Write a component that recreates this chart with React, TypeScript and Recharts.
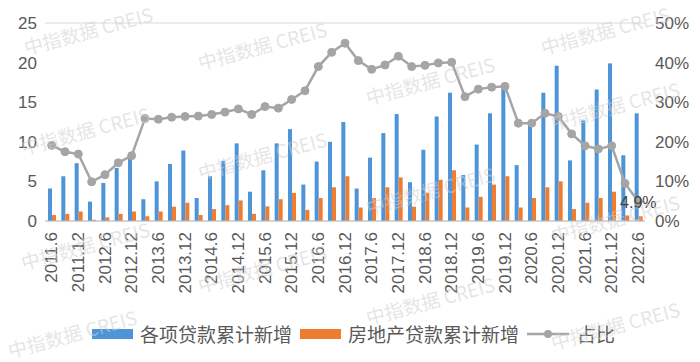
import React from "react";
import {
  Bar,
  CartesianGrid,
  ComposedChart,
  LabelList,
  Legend,
  Line,
  XAxis,
  YAxis,
} from "recharts";

// quarterly, 2011.6 .. 2022.6
const periods = [
  "2011.6", "2011.9", "2011.12", "2012.3", "2012.6", "2012.9", "2012.12",
  "2013.3", "2013.6", "2013.9", "2013.12", "2014.3", "2014.6", "2014.9", "2014.12",
  "2015.3", "2015.6", "2015.9", "2015.12", "2016.3", "2016.6", "2016.9", "2016.12",
  "2017.3", "2017.6", "2017.9", "2017.12", "2018.3", "2018.6", "2018.9", "2018.12",
  "2019.3", "2019.6", "2019.9", "2019.12", "2020.3", "2020.6", "2020.9", "2020.12",
  "2021.3", "2021.6", "2021.9", "2021.12", "2022.3", "2022.6",
];

// 各项贷款累计新增
const totalLoans = [
  4.1, 5.65, 7.3, 2.45, 4.8, 6.7, 7.85,
  2.75, 5.0, 7.2, 8.9, 2.9, 5.65, 7.6, 9.8,
  3.7, 6.4, 9.8, 11.6, 4.6, 7.5, 10.0, 12.5,
  4.1, 8.0, 11.1, 13.5, 4.9, 9.0, 13.2, 16.2,
  5.8, 9.65, 13.6, 16.75, 7.05, 12.15, 16.2, 19.6,
  7.65, 12.7, 16.6, 19.9, 8.3, 13.6,
];

// 房地产贷款累计新增
const propertyLoans = [
  0.75, 0.9, 1.2, 0.15, 0.45, 0.9, 1.2,
  0.6, 1.2, 1.8, 2.3, 0.75, 1.5, 2.0, 2.6,
  0.9, 1.85, 2.75, 3.55, 1.4, 2.9, 4.25, 5.65,
  1.7, 2.9, 4.25, 5.5, 1.8, 3.55, 5.2, 6.4,
  1.7, 3.05, 4.6, 5.65, 1.7, 2.9, 4.25, 5.0,
  1.5, 2.3, 2.9, 3.7, 0.7, 0.6,
];

// 占比 (%)
const share = [
  19.1, 17.5, 16.9, 9.9, 11.7, 14.7, 16.5,
  25.9, 25.7, 26.2, 26.4, 26.5, 26.9, 27.5, 28.3,
  26.9, 28.9, 28.5, 30.7, 32.9, 39.0, 42.6, 44.9,
  40.5, 38.3, 39.4, 41.6, 39.0, 39.3, 39.9, 40.1,
  31.4, 33.3, 33.8, 34.0, 24.7, 24.7, 27.2, 26.4,
  22.0, 19.0, 18.2, 19.0, 9.5, 4.9,
];

const leftTicks = [0, 5, 10, 15, 20, 25];
const rightTicks = [0, 10, 20, 30, 40, 50];

const BLUE = "#4e94d8";
const ORANGE = "#ed7d31";
const GRAY = "#a5a5a5";
const TEXT = "#595959";
const FONT = '"Liberation Sans", "Noto Sans CJK SC", sans-serif';

const data = periods.map((p, i) => ({
  period: p,
  total: totalLoans[i],
  property: propertyLoans[i],
  share: share[i],
}));

// faint "中指数据 CREIS" marks on the source image
const watermarks = [
  [88, 30], [85, 130], [85, 245], [72, 333],
  [262, 45], [262, 155], [262, 268],
  [430, 80], [430, 190], [430, 300],
  [605, 30], [615, 105], [615, 218], [615, 325],
];

function XTick(props: any) {
  const { x, y, payload } = props;
  return (
    <text
      x={x}
      y={y}
      transform={`rotate(-90, ${x}, ${y})`}
      textAnchor="end"
      dominantBaseline="central"
      fill={TEXT}
      fontSize={17}
      fontFamily={FONT}
    >
      {payload.value}
    </text>
  );
}

function LastLabel(props: any) {
  const { x, y, index } = props;
  if (index !== share.length - 1) return null;
  return (
    <text
      x={x}
      y={y + 1}
      textAnchor="middle"
      dominantBaseline="central"
      fill="#404040"
      fontSize={16}
      fontFamily={FONT}
    >
      {share[index]}%
    </text>
  );
}

function LegendContent() {
  const item = { display: "flex", alignItems: "center", marginRight: 8 } as const;
  return (
    <div style={{ display: "flex", alignItems: "center", fontFamily: FONT, fontSize: 19, color: TEXT }}>
      <div style={item}>
        <span style={{ width: 41, height: 10, background: BLUE, marginRight: 7 }} />
        各项贷款累计新增
      </div>
      <div style={item}>
        <span style={{ width: 41, height: 10, background: ORANGE, marginRight: 7 }} />
        房地产贷款累计新增
      </div>
      <div style={item}>
        <svg width={42} height={12} style={{ marginRight: 8 }}>
          <line x1={0} y1={6} x2={42} y2={6} stroke={GRAY} strokeWidth={2.5} />
          <circle cx={21} cy={6} r={4} fill={GRAY} />
        </svg>
        占比
      </div>
    </div>
  );
}

export default function App() {
  return (
    <div style={{ position: "absolute", left: 0, top: 0, width: 700, height: 362, background: "#fff" }}>
      <ComposedChart
        width={700}
        height={362}
        data={data}
        margin={{ top: 23, right: 0, bottom: 0, left: 0 }}
        barGap={0}
        barCategoryGap={0}
      >
        <CartesianGrid vertical={false} stroke="#d9d9d9" />
        <XAxis
          dataKey="period"
          interval={1}
          height={141}
          tick={<XTick />}
          tickLine={false}
          tickMargin={5}
          axisLine={{ stroke: "#bfbfbf" }}
        />
        <YAxis
          yAxisId="left"
          domain={[0, 25]}
          ticks={leftTicks}
          width={45}
          axisLine={false}
          tickLine={false}
          tick={{ fill: TEXT, fontSize: 17, fontFamily: FONT }}
        />
        <YAxis
          yAxisId="right"
          orientation="right"
          domain={[0, 50]}
          ticks={rightTicks}
          width={55}
          axisLine={false}
          tickLine={false}
          tickMargin={4}
          tickFormatter={(v) => `${v}%`}
          tick={{ fill: TEXT, fontSize: 17, fontFamily: FONT }}
        />
        <Legend
          layout="horizontal"
          verticalAlign="middle"
          align="center"
          content={<LegendContent />}
          wrapperStyle={{ top: 320, left: 92, width: 600 }}
        />
        <Bar yAxisId="left" dataKey="total" name="各项贷款累计新增" fill={BLUE} barSize={4} isAnimationActive={false} />
        <Bar yAxisId="left" dataKey="property" name="房地产贷款累计新增" fill={ORANGE} barSize={4} isAnimationActive={false} />
        <Line
          yAxisId="right"
          dataKey="share"
          name="占比"
          stroke={GRAY}
          strokeWidth={2.5}
          dot={{ r: 4, fill: GRAY, stroke: GRAY, strokeWidth: 1 }}
          isAnimationActive={false}
        >
          <LabelList dataKey="share" content={<LastLabel />} />
        </Line>
      </ComposedChart>
      <svg
        width={700}
        height={362}
        style={{ position: "absolute", left: 0, top: 0, pointerEvents: "none" }}
      >
        {watermarks.map(([cx, cy], i) => (
          <text
            key={i}
            x={cx}
            y={cy}
            textAnchor="middle"
            dominantBaseline="central"
            transform={`rotate(-15, ${cx}, ${cy})`}
            fill="#cfcfcf"
            fillOpacity={0.55}
            fontSize={19}
            fontFamily='"Noto Sans CJK SC", sans-serif'
          >
            中指数据 CREIS
          </text>
        ))}
      </svg>
    </div>
  );
}
